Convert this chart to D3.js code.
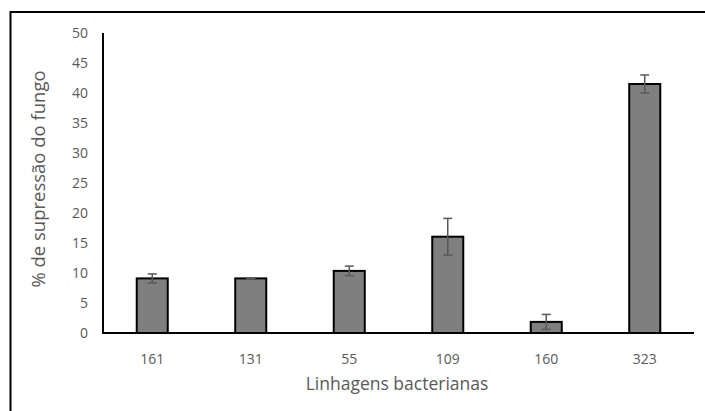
<!DOCTYPE html>
<html><head><meta charset="utf-8">
<script src="https://cdn.jsdelivr.net/npm/d3@7"></script>
<style>body{margin:0;background:#fff}svg{display:block}</style>
</head><body>
<script>
const categories = ["161","131","55","109","160","323"];
const values = [9.1, 9.1, 10.35, 16.05, 1.85, 41.5];
const errors = [0.75, 0.05, 0.8, 3.05, 1.25, 1.5];
const yTicks = [0,5,10,15,20,25,30,35,40,45,50];

const W = 705, H = 411;
const svg = d3.select("body").append("svg").attr("width", W).attr("height", H);
svg.append("rect").attr("x",0).attr("y",0).attr("width",W).attr("height",H).attr("fill","#fff");
svg.append("rect").attr("x",10.5).attr("y",12).attr("width",720).attr("height",430)
  .attr("fill","none").attr("stroke","#000").attr("stroke-width",2);

const m = {left:103, right:694, top:33, bottom:333};
const x = d3.scaleBand().domain(categories).range([m.left, m.right]).paddingInner(0.685).paddingOuter(0.3425);
const y = d3.scaleLinear().domain([0,50]).range([m.bottom, m.top]);
const font = "'Open Sans', sans-serif";

// y tick labels
svg.append("g").selectAll("text").data(yTicks).join("text")
  .attr("x", 88).attr("y", d => y(d)).attr("dy","0.35em")
  .attr("text-anchor","end").attr("font-family",font).attr("font-size",14)
  .attr("fill","#595959").text(d => d);

// bars
svg.append("g").selectAll("rect").data(categories).join("rect")
  .attr("x", d => x(d)).attr("width", x.bandwidth())
  .attr("y", (d,i) => y(values[i])).attr("height", (d,i) => y(0) - y(values[i]))
  .attr("fill","#7f7f7f").attr("stroke","#000").attr("stroke-width",2);

// error bars
const eg = svg.append("g").attr("stroke","#595959").attr("stroke-width",1.5);
categories.forEach((c,i) => {
  const cx = x(c) + x.bandwidth()/2;
  const t = y(values[i] + errors[i]), b = y(values[i] - errors[i]);
  eg.append("line").attr("x1",cx).attr("x2",cx).attr("y1",t).attr("y2",b);
  eg.append("line").attr("x1",cx-4.5).attr("x2",cx+4.5).attr("y1",t).attr("y2",t);
  eg.append("line").attr("x1",cx-4.5).attr("x2",cx+4.5).attr("y1",b).attr("y2",b);
});

// axes lines
svg.append("line").attr("x1",m.left).attr("x2",m.left).attr("y1",y(50)).attr("y2",y(0))
  .attr("stroke","#000").attr("stroke-width",2);
svg.append("line").attr("x1",m.left-1).attr("x2",m.right).attr("y1",y(0)).attr("y2",y(0))
  .attr("stroke","#000").attr("stroke-width",2);

// x tick labels
svg.append("g").selectAll("text").data(categories).join("text")
  .attr("x", d => x(d) + x.bandwidth()/2).attr("y", 359).attr("dy","0.35em")
  .attr("text-anchor","middle").attr("font-family",font).attr("font-size",14)
  .attr("fill","#595959").text(d => d);

// titles
svg.append("text").attr("x", 397).attr("y", 384).attr("dy","0.35em")
  .attr("text-anchor","middle").attr("font-family",font).attr("font-size",17.5)
  .attr("fill","#595959").text("Linhagens bacterianas");
svg.append("text").attr("transform","translate(39,179) rotate(-90)").attr("dy","0.35em")
  .attr("text-anchor","middle").attr("font-family",font).attr("font-size",18.5)
  .attr("fill","#595959").text("% de supressão do fungo");
</script>
</body></html>
